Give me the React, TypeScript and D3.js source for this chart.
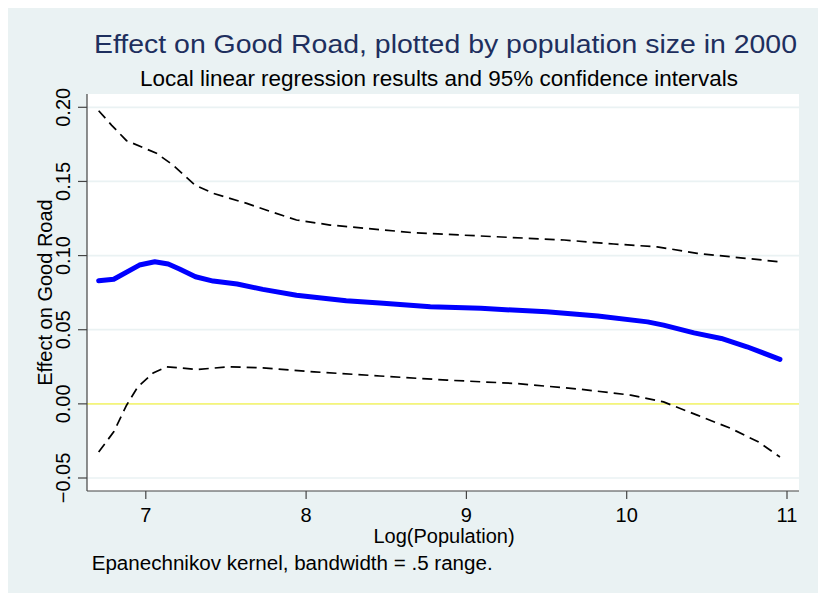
import React from "react";
import * as d3 from "d3";

const titleText = "Effect on Good Road, plotted by population size in 2000";
const subtitleText = "Local linear regression results and 95% confidence intervals";
const xTitle = "Log(Population)";
const yTitle = "Effect on Good Road";
const noteText = "Epanechnikov kernel, bandwidth = .5 range.";

const xTicks = [7, 8, 9, 10, 11];
const yTicks = [-0.05, 0, 0.05, 0.1, 0.15, 0.2];

const estX = [6.706, 6.8, 6.96, 7.056, 7.14, 7.21, 7.31, 7.42, 7.57, 7.73, 7.94, 8.25, 8.46, 8.775, 9.09, 9.5, 9.82, 10.13, 10.23, 10.42, 10.59, 10.75, 10.956];
const estY = [0.083, 0.084, 0.0936, 0.0958, 0.0943, 0.0909, 0.0857, 0.0828, 0.0808, 0.0772, 0.0733, 0.0695, 0.068, 0.0655, 0.0644, 0.0621, 0.0592, 0.0553, 0.0531, 0.0479, 0.0441, 0.0385, 0.03];

const upX = [6.706, 6.786, 6.88, 7.067, 7.17, 7.306, 7.42, 7.63, 7.75, 7.94, 8.15, 8.46, 8.67, 9.09, 9.61, 9.92, 10.19, 10.44, 10.71, 10.956];
const upY = [0.1977, 0.188, 0.1775, 0.169, 0.161, 0.1476, 0.142, 0.1352, 0.1307, 0.124, 0.1206, 0.1175, 0.1154, 0.1132, 0.1105, 0.1078, 0.1059, 0.1015, 0.0985, 0.0958];

const loX = [6.706, 6.8, 6.88, 6.95, 7.046, 7.13, 7.32, 7.525, 7.73, 8.05, 8.46, 8.88, 9.3, 9.71, 10.025, 10.23, 10.44, 10.65, 10.82, 10.956];
const loY = [-0.0324, -0.0189, -0.0009, 0.0115, 0.0209, 0.025, 0.0232, 0.025, 0.0243, 0.0216, 0.0188, 0.016, 0.0138, 0.0099, 0.0059, 0.0013, -0.0076, -0.0166, -0.0256, -0.0358];

const W = 818;
const H = 593;
const plotL = 87;
const plotR = 799;
const plotT = 94;
const plotB = 491;

const font = "'Liberation Sans', Arial, Helvetica, sans-serif";

export default function App() {
  const x = d3.scaleLinear().domain([7, 11]).range([145.8, 787]);
  const y = d3.scaleLinear().domain([-0.05, 0.2]).range([478, 107.3]);

  const line = d3
    .line<[number, number]>()
    .x((d) => x(d[0]))
    .y((d) => y(d[1]))
    .curve(d3.curveLinear);

  const est = line(estX.map((v, i) => [v, estY[i]] as [number, number])) || "";
  const up = line(upX.map((v, i) => [v, upY[i]] as [number, number])) || "";
  const lo = line(loX.map((v, i) => [v, loY[i]] as [number, number])) || "";

  const fmt = d3.format(".2f");

  return (
    <svg
      width={W}
      height={H}
      style={{ position: "absolute", left: 0, top: 0, display: "block" }}
      fontFamily={font}
    >
      <rect x={0} y={0} width={W} height={H} fill="#ffffff" />
      <rect x={8} y={8} width={W - 8} height={H - 8} fill="#eaf2f3" />
      <rect x={plotL} y={plotT} width={plotR - plotL} height={plotB - plotT} fill="#ffffff" />

      {yTicks.map((t) => (
        <line key={"g" + t} x1={plotL} x2={plotR} y1={y(t)} y2={y(t)} stroke="#eaf2f3" strokeWidth={1.7} />
      ))}

      <line x1={plotL} x2={plotR} y1={y(0)} y2={y(0)} stroke="#f5f57a" strokeWidth={1.6} />

      <path d={up} fill="none" stroke="#000" strokeWidth={1.7} strokeDasharray="10,6" />
      <path d={lo} fill="none" stroke="#000" strokeWidth={1.7} strokeDasharray="10,6" />
      <path d={est} fill="none" stroke="#0000ff" strokeWidth={5} strokeLinejoin="round" strokeLinecap="round" />

      <line x1={plotL} x2={plotL} y1={plotT} y2={plotB} stroke="#444" strokeWidth={1.2} />
      <line x1={plotL} x2={plotR} y1={plotB} y2={plotB} stroke="#444" strokeWidth={1.2} />

      {yTicks.map((t) => (
        <g key={"yt" + t}>
          <line x1={plotL - 9} x2={plotL} y1={y(t)} y2={y(t)} stroke="#444" strokeWidth={1.2} />
          <text
            transform={`translate(70,${y(t)}) rotate(-90)`}
            textAnchor="middle"
            fontSize={20}
            fill="#000"
          >
            {fmt(t)}
          </text>
        </g>
      ))}

      {xTicks.map((t) => (
        <g key={"xt" + t}>
          <line x1={x(t)} x2={x(t)} y1={plotB} y2={plotB + 8} stroke="#444" strokeWidth={1.2} />
          <text x={x(t)} y={522} textAnchor="middle" fontSize={20} fill="#000">
            {t}
          </text>
        </g>
      ))}

      <text x={444} y={543.3} textAnchor="middle" fontSize={20} fill="#000">
        {xTitle}
      </text>
      <text
        transform={`translate(52,${(plotT + plotB) / 2}) rotate(-90)`}
        textAnchor="middle"
        fontSize={20}
        fill="#000"
      >
        {yTitle}
      </text>

      <text
        x={94}
        y={53}
        fontSize={26}
        fill="#1e2f5e"
        textLength={703}
        lengthAdjust="spacingAndGlyphs"
      >
        {titleText}
      </text>
      <text
        x={140}
        y={86}
        fontSize={21.5}
        fill="#000"
        textLength={598}
        lengthAdjust="spacingAndGlyphs"
      >
        {subtitleText}
      </text>

      <text
        x={91.7}
        y={570}
        fontSize={20}
        fill="#000"
        textLength={401}
        lengthAdjust="spacingAndGlyphs"
      >
        {noteText}
      </text>
    </svg>
  );
}
